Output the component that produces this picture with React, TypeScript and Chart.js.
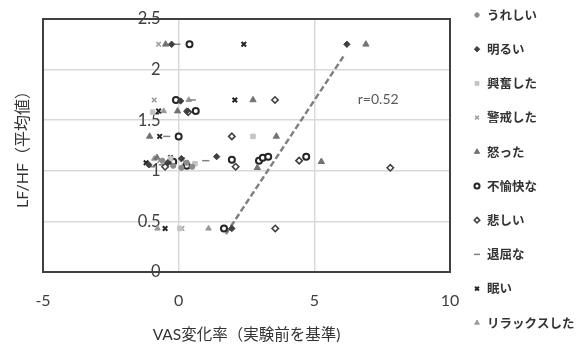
import React, { useEffect, useRef } from 'react';
import { Chart, registerables } from 'chart.js';
import { drawPoint } from 'chart.js/helpers';

Chart.register(...registerables);

// ---- data ----
const categories = ['うれしい', '明るい', '興奮した', '警戒した', '怒った', '不愉快な', '悲しい', '退屈な', '眠い', 'リラックスした'];
const xTicks = [-5, 0, 5, 10];
const yTicks = [0, 0.5, 1, 1.5, 2, 2.5];
const xTitle = 'VAS変化率（実験前を基準)';
const yTitle = 'LF/HF（平均値）';

const ureshiiX = [-0.2, 0.3, 0.5, -0.6, 0.1];
const ureshiiY = [1.05, 1.08, 1.04, 1.1, 1.03];
const akaruiX = [-1.1, -0.4, 0.1, 1.4, 1.96, 6.2, -0.26, 0.07, 0.3];
const akaruiY = [1.06, 1.08, 1.12, 1.14, 0.43, 2.25, 2.25, 1.69, 1.59];
const koufunX = [-0.96, 2.74, 0.6, -0.3, 0.04];
const koufunY = [1.58, 1.34, 1.07, 1.12, 0.43];
const keikaiX = [-0.9, -0.74, -0.7, 0.15, 0.12];
const keikaiY = [1.7, 2.25, 1.1, 1.11, 0.43];
const ikattaX = [-0.48, -0.04, 2.74, 3.6, 2.9, 5.26, 6.9, -1.07, -0.8];
const ikattaY = [2.25, 1.59, 1.7, 1.34, 1.03, 1.09, 2.25, 1.34, 1.13];
const fuyukaiX = [0.4, -0.1, 0.63, 0.0, 1.96, 2.96, 3.1, 3.3, 4.7, 1.67, -0.2, 0.3];
const fuyukaiY = [2.25, 1.7, 1.59, 1.34, 1.11, 1.1, 1.13, 1.14, 1.14, 0.43, 1.09, 1.05];
const kanashiiX = [3.55, 1.96, 2.1, 4.44, 7.8, 3.56, 0.35, -0.5];
const kanashiiY = [1.7, 1.34, 1.04, 1.1, 1.03, 0.43, 1.58, 1.04];
const taikutsuX = [-0.07, 0.5, -0.44, 1.0, -1.0, -0.6];
const taikutsuY = [2.25, 1.7, 1.34, 1.1, 1.04, 1.06];
const nemuiX = [2.4, 2.07, -0.74, -0.7, -0.5, -1.2, -0.3];
const nemuiY = [2.25, 1.7, 1.59, 1.34, 0.43, 1.08, 1.13];
const relaxX = [-0.78, 1.1, 0.37, -0.55, -0.9, 0.2];
const relaxY = [0.43, 0.43, 1.7, 1.59, 1.12, 1.06];

const seriesX = [ureshiiX, akaruiX, koufunX, keikaiX, ikattaX, fuyukaiX, kanashiiX, taikutsuX, nemuiX, relaxX];
const seriesY = [ureshiiY, akaruiY, koufunY, keikaiY, ikattaY, fuyukaiY, kanashiiY, taikutsuY, nemuiY, relaxY];

const trendX = [1.74, 6.07];
const trendY = [0.376, 2.13];
const rLabel = 'r=0.52';
const rPos = [6.6, 1.7];

// ---- styles ----
const styles = [
  { pointStyle: 'circle', radius: 2.6, bg: '#8c8c8c', border: '#8c8c8c', bw: 1 },
  { pointStyle: 'rectRot', radius: 3.2, bg: '#404040', border: '#404040', bw: 1 },
  { pointStyle: 'rect', radius: 3.2, bg: '#c4c4c4', border: '#c4c4c4', bw: 1 },
  { pointStyle: 'crossRot', radius: 3.2, bg: '#9a9a9a', border: '#9a9a9a', bw: 1.5 },
  { pointStyle: 'triangle', radius: 3.6, bg: '#737373', border: '#737373', bw: 1 },
  { pointStyle: 'circle', radius: 3, bg: '#ffffff', border: '#262626', bw: 2 },
  { pointStyle: 'rectRot', radius: 3.2, bg: '#ffffff', border: '#404040', bw: 1.6 },
  { pointStyle: 'line', radius: 3.6, bg: '#808080', border: '#808080', bw: 1.5 },
  { pointStyle: 'crossRot', radius: 3.2, bg: '#262626', border: '#262626', bw: 2 },
  { pointStyle: 'triangle', radius: 3.2, bg: '#999999', border: '#999999', bw: 1 },
];

const FONT = 'Lato, "Noto Sans CJK JP", sans-serif';

const boxPlugin = {
  id: 'boxPlugin',
  beforeDatasetsDraw(chart: any) {
    const { ctx, chartArea: a } = chart;
    const xs = chart.scales.x;
    const ys = chart.scales.y;
    ctx.save();
    ctx.strokeStyle = '#404040';
    ctx.lineWidth = 2;
    ctx.strokeRect(a.left, a.top, a.right - a.left, a.bottom - a.top);
    // y tick labels, placed next to the x = 0 axis crossing
    ctx.fillStyle = '#404040';
    ctx.font = '16.5px ' + FONT;
    ctx.textAlign = 'right';
    ctx.textBaseline = 'middle';
    const x0 = xs.getPixelForValue(0) - 18;
    yTicks.forEach((v) => {
      ctx.fillText(String(v), x0, ys.getPixelForValue(v));
    });
    ctx.restore();
  },
  afterDatasetsDraw(chart: any) {
    const { ctx } = chart;
    const xs = chart.scales.x;
    const ys = chart.scales.y;
    ctx.save();
    ctx.fillStyle = '#595959';
    ctx.font = '14px ' + FONT;
    ctx.textAlign = 'left';
    ctx.textBaseline = 'middle';
    ctx.fillText(rLabel, xs.getPixelForValue(rPos[0]), ys.getPixelForValue(rPos[1]));
    ctx.restore();
  },
  afterDraw(chart: any) {
    const { ctx } = chart;
    categories.forEach((name, i) => {
      const y = 15 + i * 34.2;
      const s = styles[i];
      ctx.save();
      ctx.fillStyle = s.bg;
      ctx.strokeStyle = s.border;
      ctx.lineWidth = s.bw;
      drawPoint(ctx, { pointStyle: s.pointStyle as any, radius: s.radius * 0.85, borderWidth: s.bw, rotation: 0 }, 477, y);
      ctx.fillStyle = '#333333';
      ctx.font = 'bold 12.5px "Noto Sans CJK JP", sans-serif';
      ctx.textAlign = 'left';
      ctx.textBaseline = 'middle';
      ctx.fillText(name, 487, y);
      ctx.restore();
    });
  },
};

export default function App() {
  const ref = useRef<HTMLCanvasElement>(null);
  useEffect(() => {
    if (!ref.current) return;
    const datasets: any[] = categories.map((name, i) => ({
      label: name,
      data: seriesX[i].map((x, j) => ({ x, y: seriesY[i][j] })),
      pointStyle: styles[i].pointStyle,
      pointRadius: styles[i].radius,
      pointBackgroundColor: styles[i].bg,
      pointBorderColor: styles[i].border,
      pointBorderWidth: styles[i].bw,
      showLine: false,
    }));
    datasets.push({
      label: 'trend',
      data: trendX.map((x, j) => ({ x, y: trendY[j] })),
      showLine: true,
      borderColor: '#7f7f7f',
      borderWidth: 2.5,
      borderDash: [6, 3],
      pointRadius: 0,
      fill: false,
    });
    const tickSetter = (vals: number[]) => (s: any) => {
      s.ticks = vals.map((v) => ({ value: v }));
    };
    const chart = new Chart(ref.current, {
      type: 'scatter',
      data: { datasets },
      options: {
        animation: false,
        responsive: false,
        layout: { padding: { top: 19, right: 132, bottom: 0, left: 0 } },
        plugins: { legend: { display: false }, tooltip: { enabled: false } },
        scales: {
          x: {
            type: 'linear',
            min: -5,
            max: 10,
            afterBuildTicks: tickSetter(xTicks),
            ticks: { font: { size: 16, family: FONT }, color: '#404040', padding: 19 },
            grid: { color: '#d9d9d9', lineWidth: 1.5, drawTicks: false },
            border: { display: false },
            title: { display: true, text: xTitle, font: { size: 15.5, family: FONT }, color: '#333333', padding: { top: 0, bottom: 6 } },
            afterFit: (s: any) => { s.height = 78; },
          },
          y: {
            type: 'linear',
            position: 'left',
            min: 0,
            max: 2.5,
            afterBuildTicks: tickSetter(yTicks),
            ticks: { display: false },
            grid: { color: '#d9d9d9', lineWidth: 1.5, drawTicks: false },
            border: { display: false },
            title: { display: true, text: yTitle, font: { size: 16, family: FONT }, color: '#333333', padding: { top: 13, bottom: 0 } },
            afterFit: (s: any) => { s.width = 43; },
          },
        } as any,
      },
      plugins: [boxPlugin],
    });
    return () => chart.destroy();
  }, []);
  return (
    <div style={{ position: 'absolute', left: 0, top: 0, width: 582, height: 350, background: '#fff' }}>
      <canvas ref={ref} width={582} height={350} style={{ display: 'block' }} />
    </div>
  );
}
